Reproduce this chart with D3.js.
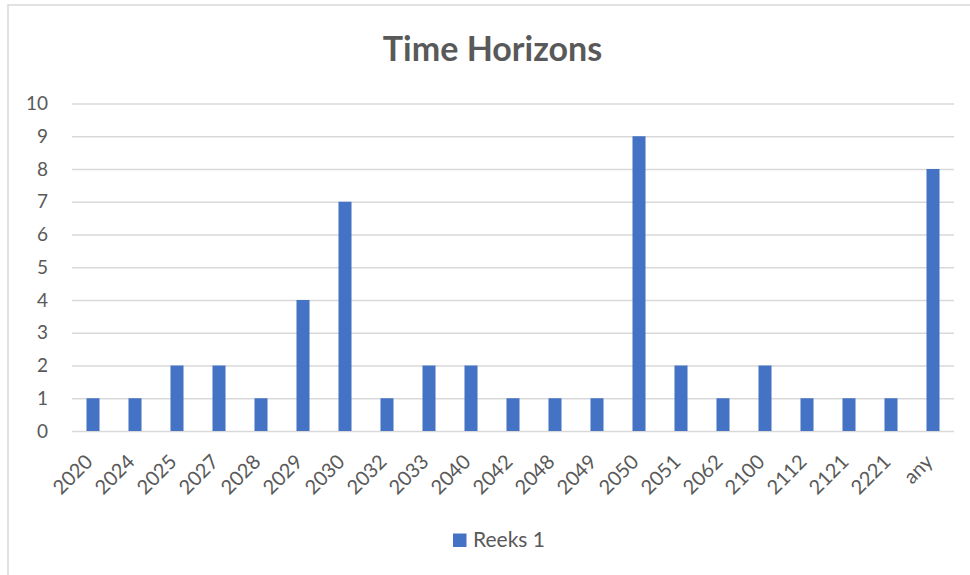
<!DOCTYPE html>
<html>
<head>
<meta charset="utf-8">
<script src="https://cdn.jsdelivr.net/npm/d3@7"></script>
<style>
  html, body { margin: 0; padding: 0; background: #fff; }
  svg { display: block; }
  text { font-family: Lato, "Open Sans", sans-serif; fill: #595959; }
</style>
</head>
<body>
<svg id="chart" width="970" height="575"></svg>
<script>
// Time horizon categories and counts
const categories = ["2020","2024","2025","2027","2028","2029","2030","2032","2033","2040",
                    "2042","2048","2049","2050","2051","2062","2100","2112","2121","2221","any"];
const counts = [1,1,2,2,1,4,7,1,2,2,1,1,1,9,2,1,2,1,1,1,8];
const yTicks = [0,1,2,3,4,5,6,7,8,9,10];
const seriesName = "Reeks 1";
const chartTitle = "Time Horizons";

const svg = d3.select("#chart");
const W = 970, H = 575;
const plot = { left: 72, right: 954, top: 103.5, bottom: 431 };
const barColor = "#4472c4";
const gridColor = "#d9d9d9";

// chart area frame (top and left edges visible)
svg.append("rect")
  .attr("x", 8).attr("y", 5)
  .attr("width", W + 10).attr("height", H + 10)
  .attr("fill", "#fff")
  .attr("stroke", "#d9d9d9").attr("stroke-width", 1.5);

const x = d3.scaleBand()
  .domain(categories)
  .range([plot.left, plot.right])
  .paddingInner(0.69).paddingOuter(0.345);

const y = d3.scaleLinear()
  .domain([0, 10])
  .range([plot.bottom, plot.top]);

// horizontal gridlines + y labels
const yAxis = d3.axisLeft(y)
  .tickValues(yTicks)
  .tickSize(-(plot.right - plot.left))
  .tickPadding(24)
  .tickFormat(d3.format("d"));

const gy = svg.append("g")
  .attr("transform", `translate(${plot.left},0)`)
  .call(yAxis);
gy.select(".domain").remove();
gy.selectAll(".tick line").attr("stroke", gridColor).attr("stroke-width", 1.5);
gy.selectAll(".tick text")
  .attr("font-size", 19)
  .attr("fill", "#595959");

// bars
svg.append("g").selectAll("rect")
  .data(categories.map((c, i) => ({ c, v: counts[i] })))
  .join("rect")
  .attr("x", d => x(d.c))
  .attr("y", d => y(d.v))
  .attr("width", x.bandwidth())
  .attr("height", d => y(0) - y(d.v))
  .attr("fill", barColor);

// x axis labels, rotated
const xAxis = d3.axisBottom(x).tickSize(0).tickPadding(0);
const gx = svg.append("g")
  .attr("transform", `translate(0,${plot.bottom})`)
  .call(xAxis);
gx.select(".domain").remove();
gx.selectAll(".tick text")
  .attr("font-size", 20)
  .attr("fill", "#595959")
  .attr("text-anchor", "end")
  .attr("dy", 0)
  .attr("transform", "translate(1,32) rotate(-45)");

// title
svg.append("text")
  .attr("x", 492.5).attr("y", 61)
  .attr("text-anchor", "middle")
  .attr("font-size", 34)
  .attr("font-weight", "bold")
  .attr("fill", "#595959")
  .text(chartTitle);

// legend
const lg = svg.append("g").attr("transform", "translate(453,533.5)");
lg.append("rect").attr("width", 13.5).attr("height", 13.5).attr("fill", barColor);
lg.append("text").attr("x", 20).attr("y", 13.5)
  .attr("font-size", 21).attr("fill", "#595959")
  .text(seriesName);
</script>
</body>
</html>
